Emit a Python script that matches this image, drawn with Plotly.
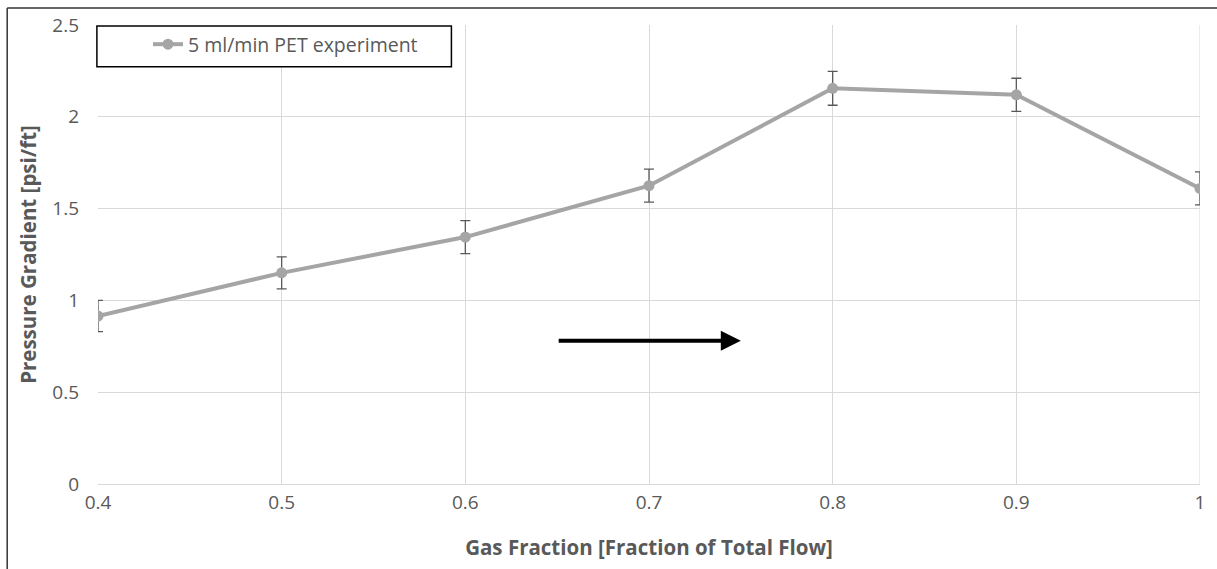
import plotly.graph_objects as go

# Measured pressure gradient vs gas fraction, 5 ml/min PET run
gas_fraction = [0.4, 0.5, 0.6, 0.7, 0.8, 0.9, 1.0]
pressure_gradient = [0.915, 1.15, 1.345, 1.625, 2.155, 2.12, 1.61]
gradient_error = [0.085, 0.087, 0.09, 0.09, 0.092, 0.09, 0.09]

x_ticks = [0.4, 0.5, 0.6, 0.7, 0.8, 0.9, 1.0]
x_tick_text = ["0.4", "0.5", "0.6", "0.7", "0.8", "0.9", "1"]
y_ticks = [0, 0.5, 1, 1.5, 2, 2.5]
y_tick_text = ["0", "0.5", "1", "1.5", "2", "2.5"]

series_name = "5 ml/min PET experiment"
x_title = "Gas Fraction [Fraction of Total Flow]"
y_title = "Pressure Gradient [psi/ft]"

FONT = "Open Sans"
TEXT = "#595959"
GRID = "#d9d9d9"
SERIES = "#a5a5a5"
TICK_SIZE = 19
TITLE_SIZE = 20.5
LEGEND_SIZE = 19.5

fig = go.Figure()
fig.add_trace(go.Scatter(
    x=gas_fraction,
    y=pressure_gradient,
    name=series_name,
    mode="lines+markers",
    line=dict(color=SERIES, width=4),
    marker=dict(color=SERIES, size=11),
    error_y=dict(type="data", array=gradient_error, visible=True,
                 color=TEXT, thickness=1.3, width=5),
))

# Black arrow inside the plot
fig.add_annotation(
    x=0.75, y=0.78, ax=0.65, ay=0.78,
    xref="x", yref="y", axref="x", ayref="y",
    text="", showarrow=True, arrowhead=2, arrowsize=1,
    arrowwidth=4, arrowcolor="black",
)

# Outer frame lines (left and top)
fig.add_shape(type="line", xref="paper", yref="paper",
              x0=-0.0824, x1=-0.0824, y0=-0.2, y1=1.0368,
              line=dict(color="#333333", width=1.5))
fig.add_shape(type="line", xref="paper", yref="paper",
              x0=-0.0824, x1=1.02, y0=1.0368, y1=1.0368,
              line=dict(color="#333333", width=1.5))

# Framed white panel behind the legend entry
fig.add_shape(type="rect", xref="paper", yref="paper",
              x0=-0.001, x1=0.3207, y0=0.909, y1=0.9978,
              fillcolor="white", line=dict(color="black", width=1.5),
              layer="above")

fig.update_layout(
    width=1217, height=569,
    margin=dict(l=98, r=15, t=22, b=85),
    paper_bgcolor="white",
    plot_bgcolor="white",
    font=dict(family=FONT, size=TICK_SIZE, color=TEXT),
    showlegend=True,
    legend=dict(
        x=0, y=1, xanchor="left", yanchor="top",
        bgcolor="rgba(0,0,0,0)", borderwidth=0,
        font=dict(family=FONT, size=LEGEND_SIZE, color=TEXT),
        indentation=50, tracegroupgap=0,
    ),
    xaxis=dict(
        range=[0.4, 1.0], tickvals=x_ticks, ticktext=x_tick_text,
        showgrid=True, gridcolor=GRID, gridwidth=1,
        zeroline=False, showline=True, linecolor=GRID, linewidth=1,
        mirror=False, ticks="", ticklabelstandoff=1,
        tickfont=dict(family=FONT, size=TICK_SIZE, color=TEXT),
        title=dict(text=f"<b>{x_title}</b>", standoff=26,
                   font=dict(family=FONT, size=TITLE_SIZE, color=TEXT)),
    ),
    yaxis=dict(
        range=[0, 2.5], tickvals=y_ticks, ticktext=y_tick_text,
        showgrid=True, gridcolor=GRID, gridwidth=1,
        zeroline=False, showline=False, ticks="", ticklabelstandoff=18,
        tickfont=dict(family=FONT, size=TICK_SIZE, color=TEXT),
        title=dict(text=f"<b>{y_title}</b>", standoff=10,
                   font=dict(family=FONT, size=TITLE_SIZE, color=TEXT)),
    ),
)

# gridline at the right edge of the plot
fig.add_shape(type="line", xref="x", yref="paper", x0=1.0, x1=1.0, y0=0, y1=1,
              line=dict(color=GRID, width=1), layer="below")

fig.write_html("out.html")
